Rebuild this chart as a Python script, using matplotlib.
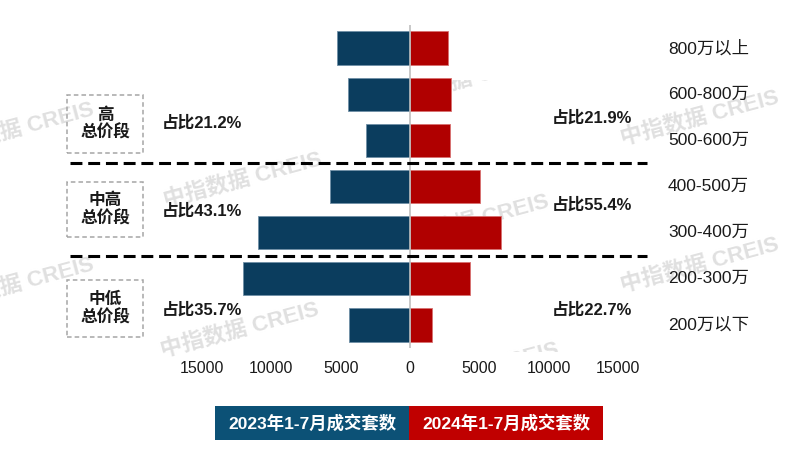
"""Butterfly bar chart: 2023 vs 2024 Jan-Jul transactions by total price band."""

import matplotlib

matplotlib.use("Agg")
import matplotlib.pyplot as plt  # noqa: E402
from matplotlib.lines import Line2D  # noqa: E402
from matplotlib.patches import Rectangle  # noqa: E402
from matplotlib.transforms import Bbox, TransformedBbox, blended_transform_factory  # noqa: E402

plt.rcParams["font.family"] = ["Liberation Sans", "Noto Sans CJK SC", "DejaVu Sans"]

# ---- data -------------------------------------------------------------
bands = ["800万以上", "600-800万", "500-600万", "400-500万", "300-400万", "200-300万", "200万以下"]
sales_2023 = [5300, 4450, 3150, 5770, 10960, 12020, 4400]
sales_2024 = [2750, 2980, 2900, 5050, 6580, 4350, 1610]
tick_values = [-15000, -10000, -5000, 0, 5000, 10000, 15000]

group_names = ["高\n总价段", "中高\n总价段", "中低\n总价段"]
share_2023 = ["占比21.2%", "占比43.1%", "占比35.7%"]
share_2024 = ["占比21.9%", "占比55.4%", "占比22.7%"]
legend_labels = ["2023年1-7月成交套数", "2024年1-7月成交套数"]

BLUE = "#0b3d5e"
RED = "#b00000"
LEG_BLUE = "#0c5176"
LEG_RED = "#c00000"

W, H = 802, 469
fig = plt.figure(figsize=(W / 100, H / 100), dpi=100)
ax = fig.add_axes([202 / W, 1 - 348 / H, 416 / W, 323 / H])
ax.patch.set_alpha(0)


def fx(px):
    return px / W


def fy(py):
    return 1 - py / H


# watermarks behind everything; the middle column is clipped top and bottom
marks = [(15, 130, None), (243, 180, None), (465, 80, (80, 469)),
         (470, 222, None), (480, 370, (0, 352)), (700, 118, None),
         (15, 285, None), (240, 330, None), (700, 265, None)]
for x, y, clip in marks:
    t = fig.text(fx(x), fy(y), "中指数据 CREIS", fontsize=16, fontweight="bold",
                 color="#e0e0e0", rotation=15, ha="center", va="center", zorder=-5)
    if clip is not None:
        top, bot = clip
        box = Bbox([[0, fy(bot)], [1, fy(top)]])
        t.set_clip_box(TransformedBbox(box, fig.transFigure))
        t.set_clip_on(True)

ys = list(range(len(bands)))
ax.barh(ys, [-v for v in sales_2023], height=0.72, color=BLUE,
        edgecolor="#6f8fa6", linewidth=0.6, zorder=2)
ax.barh(ys, sales_2024, height=0.72, color=RED,
        edgecolor="#d87070", linewidth=0.6, zorder=2)
ax.axvline(0, color="#bfbfbf", linewidth=1.2, zorder=3)

ax.set_xlim(-15000, 15000)
ax.set_ylim(len(bands) - 0.5, -0.5)
ax.set_xticks(tick_values)
ax.set_xticklabels([str(abs(v)) for v in tick_values], fontsize=11.5, color="#1a1a1a")
ax.tick_params(axis="x", length=0, pad=9)
ax.set_yticks([])
for s in ax.spines.values():
    s.set_visible(False)

# category labels on the right
tr = blended_transform_factory(fig.transFigure, ax.transData)
for i, name in enumerate(bands):
    ax.text(fx(668), i, name, transform=tr, fontsize=12.5, color="#1a1a1a",
            ha="left", va="center")

# dashed separators between groups
for yv in (2.5, 4.5):
    ln = Line2D([fx(70), fx(647)], [yv, yv], transform=tr, color="black",
                linewidth=2.2, clip_on=False, zorder=4)
    ln.set_dashes([3.9, 1.9])
    fig.add_artist(ln)

# group boxes and share labels
boxes = [(95, 153), (182, 237), (280, 337)]
left_y = [123, 211, 310]
right_y = [118, 205, 310]
for (top, bot), name, s23, s24, ly, ry in zip(boxes, group_names, share_2023,
                                                 share_2024, left_y, right_y):
    fig.add_artist(Rectangle((fx(67), fy(bot)), fx(143 - 67), (bot - top) / H,
                             transform=fig.transFigure, fill=False,
                             edgecolor="#a6a6a6", linewidth=1.1,
                             linestyle=(0, (3, 2))))
    fig.text(fx(105), fy((top + bot) / 2), name, fontsize=12, fontweight="bold",
             ha="center", va="center", linespacing=1.15, color="#1a1a1a")
    fig.text(fx(202), fy(ly), s23, fontsize=12, fontweight="bold",
             ha="center", va="center", color="#1a1a1a")
    fig.text(fx(592), fy(ry), s24, fontsize=12, fontweight="bold",
             ha="center", va="center", color="#1a1a1a")

# legend blocks
for (x0, x1), col, lab in zip([(215, 409), (409, 603)], [LEG_BLUE, LEG_RED], legend_labels):
    fig.add_artist(Rectangle((fx(x0), fy(440)), fx(x1 - x0), 34 / H,
                             transform=fig.transFigure, facecolor=col,
                             edgecolor="none"))
    fig.text(fx((x0 + x1) / 2), fy(423), lab, fontsize=12.5, fontweight="bold",
             color="white", ha="center", va="center")

fig.savefig("out.png", dpi=100)
plt.close(fig)
